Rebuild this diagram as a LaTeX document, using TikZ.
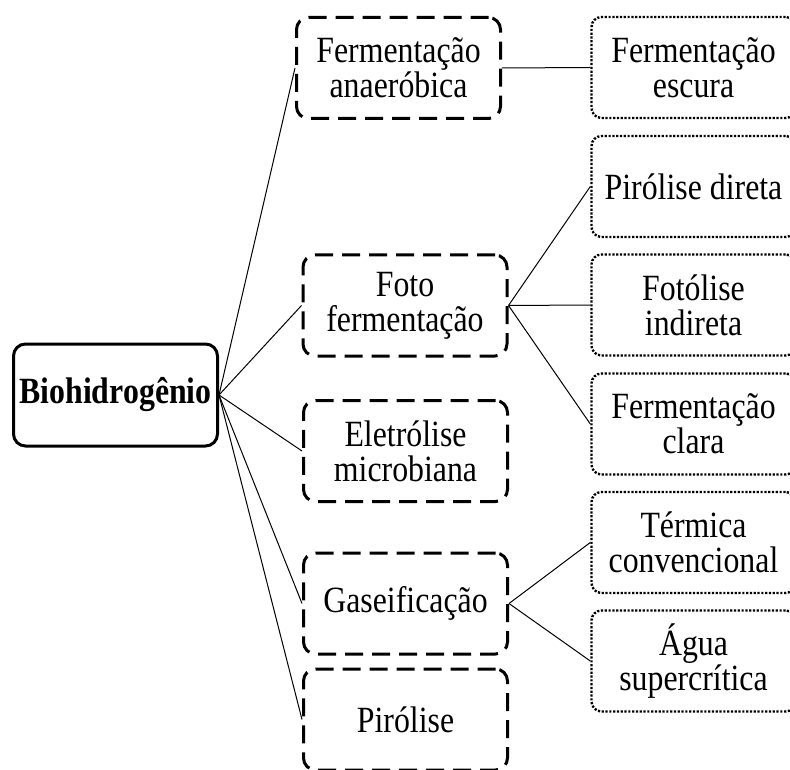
\documentclass[tikz,border=0pt]{standalone}
\usepackage{fontspec}
\setmainfont{Liberation Serif}[FakeStretch=0.86]
\usepackage{tikz}
\tikzstyle{source} = [rectangle, rounded corners=6pt, minimum width=102pt, minimum height=51pt, inner sep=0pt, text centered, draw=black, line width=1.5pt]
\tikzstyle{method} = [rectangle, rounded corners=6pt, minimum width=102pt, minimum height=50.5pt, inner sep=0pt, align=center, draw=black, line width=1.5pt, dash pattern=on 9pt off 4.5pt]
\tikzstyle{route} = [rectangle, rounded corners=5pt, minimum width=102pt, minimum height=50.5pt, inner sep=0pt, align=center, draw=black, line width=1.2pt, dash pattern=on 1.1pt off 0.8pt]
\tikzstyle{link} = [line width=0.5pt]

\begin{document}
\begin{tikzpicture} [x=0.5pt, y=-0.5pt, font=\fontsize{18.5}{17.5}\selectfont]
        \useasboundingbox (0,0) rectangle (790,769);
        \node (bio) [source] at (115.5,395) {\textbf{Biohidrogênio}};

        \node (anaer) [method] at (398.5,68) {Fermentação\\anaeróbica};
        \node (foto) [method] at (405,305.5) {Foto\\fermentação};
        \node (eletro) [method] at (405.5,451) {Eletrólise\\microbiana};
        \node (gas) [method] at (405.5,603.5) {Gaseificação};
        \node (piro) [method] at (405.5,719.5) {Pirólise};

        \node (escura) [route] at (693.5,67.5) {Fermentação\\escura};
        \node (direta) [route] at (693.5,186.5) {Pirólise direta};
        \node (indireta) [route] at (693.5,305) {Fotólise\\indireta};
        \node (clara) [route] at (693.5,424) {Fermentação\\clara};
        \node (termica) [route] at (693.5,542.5) {Térmica\\convencional};
        \node (agua) [route] at (693.5,661) {Água\\supercrítica};

        \draw[link] (bio.east) -- (anaer.west);
        \draw[link] (bio.east) -- (foto.west);
        \draw[link] (bio.east) -- (eletro.west);
        \draw[link] (bio.east) -- (gas.west);
        \draw[link] (bio.east) -- (piro.west);
        \draw[link] (anaer.east) -- (escura.west);
        \draw[link] (foto.east) -- (direta.west);
        \draw[link] (foto.east) -- (indireta.west);
        \draw[link] (foto.east) -- (clara.west);
        \draw[link] (gas.east) -- (termica.west);
        \draw[link] (gas.east) -- (agua.west);
    \end{tikzpicture}
\end{document}
